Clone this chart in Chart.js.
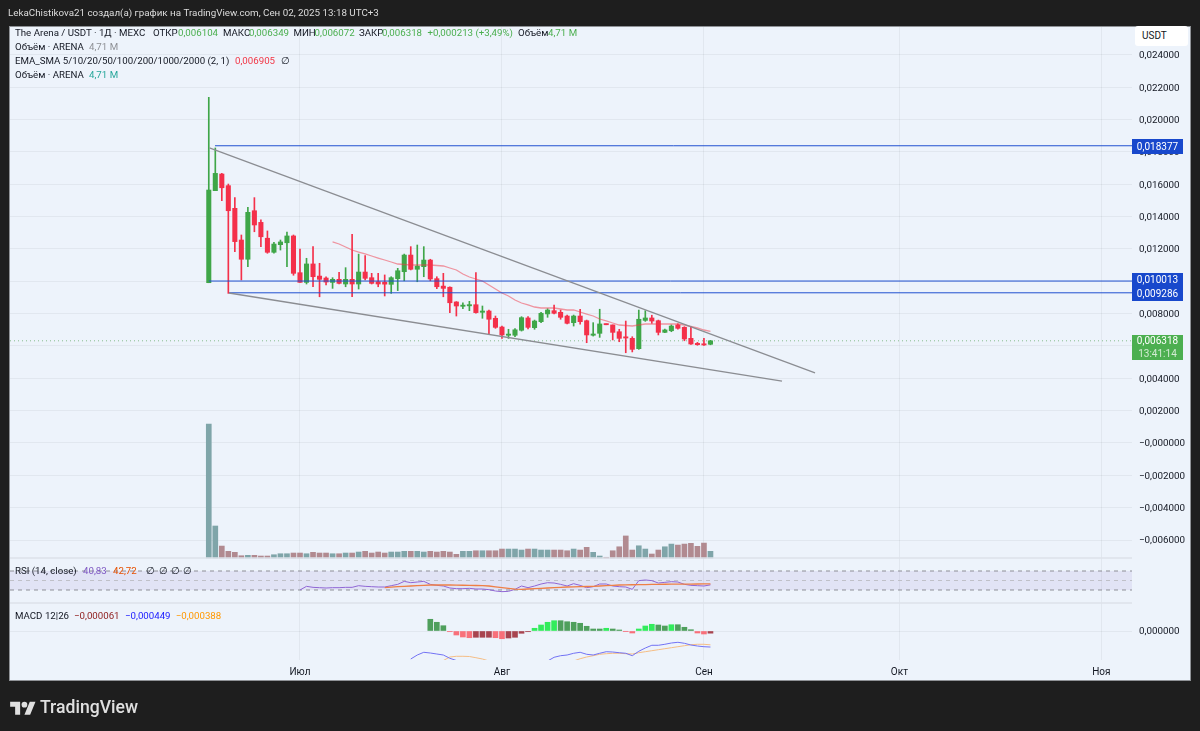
<!DOCTYPE html>
<html lang="ru">
<head>
<meta charset="utf-8">
<title>The Arena / USDT</title>
<script src="https://cdn.jsdelivr.net/npm/chart.js@4/dist/chart.umd.min.js"></script>
<style>
  html, body { margin: 0; padding: 0; background: #1e1e1e; width: 1200px; height: 731px; overflow: hidden; }
  body { position: relative; font-family: Roboto, sans-serif; }
  #frame { position: absolute; left: 9px; top: 26px; width: 1182px; height: 655px; box-sizing: border-box; border: 1px solid #8f9296; background: #edf3fb; }
  canvas { position: absolute; left: 0; top: 0; }
  .t { position: absolute; white-space: nowrap; font-size: 9.7px; line-height: 12px; color: #131722; }
  .badge { position: absolute; left: 1132px; width: 51px; color: #fff; font-size: 10px; line-height: 14px; text-align: center; }
  #usdt { position: absolute; left: 1135px; top: 26px; width: 53px; height: 20px; border-radius: 3px; background: #fff; color: #131722; font-size: 10px; line-height: 20px; text-indent: 7px; }
  #logo { position: absolute; left: 10px; top: 699px; }
  #brand { position: absolute; left: 40px; top: 695px; color: #e0e0e0; font-size: 17.6px; line-height: 24px; font-weight: 500; }
  #header { position: absolute; left: 8px; top: 6px; color: #dcdcdc; font-size: 9.8px; line-height: 14px; white-space: nowrap; }
</style>
</head>
<body>
<div id="frame"></div>
<canvas id="chart" width="1200" height="731"></canvas>
<div id="header">LekaChistikova21 создал(а) график на TradingView.com, Сен 02, 2025 13:18 UTC+3</div>
<div id="usdt">USDT</div>
<div class="badge" style="top:139px;height:15px;line-height:15px;background:#1848cc">0,018377</div>
<div class="badge" style="top:273px;height:28px;background:#1848cc">0,010013<br>0,009286</div>
<div class="badge" style="top:335px;height:25px;line-height:12.5px;background:#4caf50">0,006318<br><span style="opacity:.75">13:41:14</span></div>
<svg id="logo" width="26" height="20" viewBox="0 0 36 28" fill="#e0e0e0"><path d="M14 22H7V11H0V4h14v18zM28 22h-8l7.5-18h8L28 22z"/><circle cx="20" cy="8" r="4"/></svg>
<div id="brand">TradingView</div>

<script>
// Day index: 0 = 17 Jun 2025, one candle per day
const opens = [.00991,.0156,.01663,.01591,.01451,.01255,.01136,.01436,.01364,.01266,
  .01179,.01226,.01238,.0128,.01053,.00993,.01107,.01032,.0102,.00993,
  .01012,.00983,.01012,.00983,.01057,.01022,.00997,.00994,.00981,.01016,
  .01059,.01162,.01074,.0109,.01131,.01016,.0097,.00963,.00872,.00845,
  .00848,.00855,.00808,.00816,.00771,.00717,.00666,.00666,.00697,.00773,
  .00713,.0075,.00798,.00818,.00808,.00785,.00744,.00785,.00756,.00666,
  .00678,.00736,.0073,.00688,.00653,.00647,.00583,.00758,.00773,.00756,
  .00684,.00694,.0073,.00715,.00647,.00616,.00612,.006104];
const closes = [.01564,.01667,.01578,.01436,.01245,.01136,.01426,.01348,.01275,.01179,
  .0123,.01243,.0128,.01049,.00993,.01107,.01028,.01012,.00995,.01012,
  .00987,.01012,.00983,.01057,.01018,.00987,.00983,.00982,.01022,.01065,
  .01162,.01074,.01094,.01131,.01014,.00966,.00956,.00867,.00847,.0085,
  .00853,.00806,.00816,.00765,.00715,.00668,.00672,.007,.00775,.00715,
  .00754,.00802,.00822,.00802,.00777,.0074,.00785,.0075,.00668,.00674,
  .00736,.00731,.00684,.00647,.00649,.00579,.00765,.00773,.00754,.00684,
  .00699,.00723,.00709,.00643,.00612,.00608,.00606,.006318];
const highs = [.02137,.01824,.01667,.01601,.01517,.01286,.01457,.01517,.01379,.01311,
  .01241,.01255,.01304,.01286,.01199,.01142,.01214,.01111,.01028,.01022,
  .01055,.01084,.0129,.01168,.01158,.01049,.01049,.01039,.01028,.0108,
  .01168,.01214,.01224,.01214,.01136,.01028,.01049,.00966,.00874,.00867,
  .00876,.01053,.00847,.00822,.00785,.00723,.00703,.00707,.00781,.00781,
  .0076,.00808,.0083,.00853,.00822,.00791,.00791,.00827,.0076,.00744,
  .00827,.00736,.0073,.00703,.00754,.00657,.00822,.00818,.0079,.0076,
  .00705,.0073,.00736,.00719,.00719,.00622,.00647,.006349];
const lows = [.00991,.0156,.01498,.00925,.01183,.01008,.0109,.01306,.01214,.01173,
  .01173,.01193,.0109,.01037,.00993,.00983,.00966,.00904,.00977,.00956,
  .00983,.00966,.00904,.00952,.01008,.00983,.00966,.00909,.00925,.00942,
  .01003,.0107,.00997,.01028,.01003,.00954,.00904,.00806,.00785,.0083,
  .00818,.00802,.00771,.00674,.00709,.00647,.00647,.00657,.00692,.00705,
  .00703,.00744,.00777,.00798,.00765,.00736,.00723,.00734,.0062,.00661,
  .00653,.00731,.00637,.00626,.00558,.00563,.00579,.00752,.0074,.00668,
  .00682,.00688,.00703,.00632,.0061,.00604,.00604,.006072];
// Volume, millions
const volumes = [94.2,22.5,8.4,4.7,4.0,1.6,1.9,1.9,1.4,1.4,
  2.3,3.0,3.0,3.5,3.5,3.0,4.0,3.5,3.5,3.0,
  3.0,3.5,3.5,4.2,4.7,3.5,4.2,3.5,4.2,4.2,
  4.7,4.7,4.7,4.2,4.7,4.2,4.7,4.2,2.6,4.7,
  4.7,5.1,5.1,5.1,5.1,6.3,6.3,6.3,5.6,6.3,
  6.3,5.6,5.6,5.6,5.6,5.1,6.3,5.6,7.5,4.0,
  1.4,0.5,5.1,7.9,15.5,5.6,8.6,6.3,2.8,5.6,
  7.9,9.8,9.1,9.8,10.3,8.2,10.5,4.71];
// EMA from candle 19
const emaStart = 19;
const emaValues = [.012427,.012303,.012117,.011932,.011808,.011685,.011561,.011437,.011314,.01119,
  .011066,.011036,.011005,.011005,.011005,.011005,.010974,.010943,.010819,.010696,
  .010448,.010263,.010139,.010015,.009768,.009521,.009274,.009088,.008841,.008655,
  .008532,.008408,.008346,.008346,.008346,.008284,.008223,.008223,.008099,.007975,
  .007852,.007666,.007543,.007419,.007295,.007264,.007233,.007295,.007357,.007357,
  .007357,.007357,.007357,.007357,.007295,.007202,.00711,.006986,.006905];
// RSI from candle 14, its average from candle 27
const rsiStart = 14;
const rsiValues = [30,37.7,35.6,34.9,34.2,34.9,34.9,35.6,35.6,39.1,
  37.7,37,36.3,36.3,39.1,41.9,48.2,45.4,46.8,48.2,
  41.9,39.8,38.4,34.2,32.8,32.8,33.5,32.1,32.1,30.7,
  27.9,26.5,27.2,31.4,38.4,34.9,38.4,42.6,45.4,44.7,
  41.9,38.4,43.3,39.8,34.9,37,42.6,42.6,38.4,37,
  36.3,31.4,49.7,51.1,49.7,44.7,46.1,47.5,46.8,41.9,
  39.8,39.1,38.4,40.83];
const rsiMaStart = 27;
const rsiMaValues = [34.9,36,37,37.7,38.4,39.1,39.8,40.5,40.5,40.5,
  40.5,40.2,40,39.8,39.5,39,38.4,36.5,34.9,33.5,
  31.8,31.4,32.1,32.8,33.5,34.2,34.9,35.6,36.3,36.6,
  37,37.4,37.7,38.4,39,39.6,40.5,40.8,41,41.2,
  41.4,41.9,42,42.1,42.2,42.3,42.4,42.5,42.6,42.7,42.72];
const rsiLevels = [70, 50, 30];
// MACD
const macdStart = 31;
const macdValues = [-.000784,-.000672,-.000596,-.000616,-.000644,-.000672,-.000764,-.000826,-.000896,-.00098,
  -.001064,-.001148,-.001232,-.001316,-.0014,-.001428,-.0014,-.001316,-.001204,-.001064,
  -.000952,-.00084,-.000736,-.000692,-.000672,-.000624,-.000596,-.000652,-.000672,-.000624,
  -.00058,-.000588,-.000608,-.000624,-.000692,-.000568,-.000476,-.0004,-.0004,-.000372,
  -.000336,-.000316,-.000344,-.000392,-.00042,-.00044,-.000449];
const signalStart = 36;
const signalValues = [-.000826,-.000728,-.000708,-.000708,-.000714,-.000748,-.000784,-.00084,-.000896,-.000952,
  -.001008,-.001036,-.001064,-.001078,-.001064,-.001036,-.001008,-.00098,-.000938,-.000896,
  -.00084,-.000776,-.000728,-.000692,-.000652,-.000636,-.000624,-.000624,-.000636,-.000644,
  -.000608,-.00058,-.000552,-.000524,-.000496,-.000468,-.00044,-.000412,-.000384,-.000372,
  -.000372,-.000388];
const histStart = 34;
const histValues = [.000328,.000244,.000148,-.00002,-.000112,-.000168,-.000188,-.000176,-.000176,-.000176,
  -.000188,-.000216,-.000196,-.000176,-.000064,-.00002,.000076,.000168,.000244,.000288,
  .000288,.00026,.000244,.000216,.000132,.000056,.000056,.000076,.000056,.000028,
  -.000008,-.000056,.000056,.00014,.000188,.000168,.00014,.000176,.000176,.000104,
  .000036,-.000056,-.000084,-.000061];
// Drawings on the price pane: [day, price] ends
const upperTrend = [[0.1, .01824], [93.05, .00433]];
const lowerTrend = [[3.1, .009274], [87.98, .00383]];
const levels = [{ from: 0.95, price: .018377 }, { from: 0, price: .010013 }, { from: 3.1, price: .009286 }];
const lastPrice = .006318;
// Axes
const priceTicks = [.024,.022,.02,.018,.016,.014,.012,.01,.008,.006,.004,.002,0,-.002,-.004,-.006];
const macdTicks = [0];
const monthDays = [14, 45, 76, 106, 137];
const monthLabels = ['Июл', 'Авг', 'Сен', 'Окт', 'Ноя'];
const rsiMin = 2.63, rsiMax = 97.37;

const GREEN = '#3fa648', RED = '#f4304a', GRID = 'rgba(42,46,57,0.06)';
const BLUE = '#2050d0', GRAY = '#8b8d92', PANE_LINE = '#dce2ea';

const days = opens.map((_, i) => i);
const fromDay = (start, vals) => vals.map((y, i) => ({ x: start + i, y }));
const candleColor = (i) => closes[i] >= opens[i] ? GREEN : RED;
const fmt = (v) => Math.abs(v).toFixed(6).replace('.', ',');

function histColor(i) {
  const v = histValues[i], prev = i > 0 ? histValues[i - 1] : v;
  if (v >= 0) return v > prev ? '#33ec5c' : '#4f9f5c';
  return v < prev ? '#f8707a' : '#a8444f';
}

const plainLine = (label, yAxisID, data, color, extra) => Object.assign({
  type: 'line', label, yAxisID, data, borderColor: color, borderWidth: 1,
  pointRadius: 0, fill: false, tension: 0, order: 5
}, extra || {});

const xMin = -30.51, xMax = 141.7;
const datasets = [
  // volume
  { label: 'Volume', yAxisID: 'yVol', grouped: false, barThickness: 5, order: 20,
    data: days.map(i => ({ x: i, y: volumes[i] })),
    backgroundColor: days.map(i => closes[i] >= opens[i] ? '#7fa5a9' : '#b18a90') },
  // candles: wick first, body on top
  { label: 'Wick', yAxisID: 'y', grouped: false, barThickness: 1, order: 4,
    data: days.map(i => ({ x: i, y: [lows[i], highs[i]] })),
    backgroundColor: days.map(candleColor) },
  { label: 'Body', yAxisID: 'y', grouped: false, barThickness: 4.4, minBarLength: 1.2, order: 3,
    data: days.map(i => ({ x: i, y: [opens[i], closes[i]] })),
    backgroundColor: days.map(candleColor) },
  plainLine('EMA', 'y', fromDay(emaStart, emaValues), 'rgba(242,54,69,0.5)', { borderWidth: 1.3, order: 2 }),
  plainLine('Upper', 'y', upperTrend.map(p => ({ x: p[0], y: p[1] })), GRAY, { borderWidth: 1.3, order: 1 }),
  plainLine('Lower', 'y', lowerTrend.map(p => ({ x: p[0], y: p[1] })), GRAY, { borderWidth: 1.3, order: 1 }),
  plainLine('Last', 'y', [{ x: xMin, y: lastPrice }, { x: xMax, y: lastPrice }], '#86bd8c', { borderDash: [1, 3], order: 6 })
];
levels.forEach((l, i) => datasets.push(
  plainLine('Level ' + i, 'y', [{ x: l.from, y: l.price }, { x: xMax, y: l.price }], BLUE, { order: 1 })
));
// Pane separators
[rsiMax, rsiMin].forEach((v, i) => datasets.push(
  plainLine('Pane ' + i, 'yRsi', [{ x: xMin, y: v }, { x: xMax, y: v }], PANE_LINE, { borderWidth: 1.5, clip: false, order: 12 })
));
// RSI band and levels
rsiLevels.forEach((lv) => datasets.push(
  plainLine('RSI ' + lv, 'yRsi', [{ x: xMin, y: lv }, { x: xMax, y: lv }],
    lv === 50 ? '#bfc0c8' : '#8d8e96', { borderDash: [4, 4], order: 9 })
));
datasets.push(plainLine('RSI band', 'yRsi',
  [{ x: xMin, y: 70 }, { x: xMax, y: 70 }], 'rgba(0,0,0,0)',
  { fill: { target: { value: 30 } }, backgroundColor: 'rgba(126,87,194,0.1)', order: 10 }));
datasets.push(plainLine('RSI', 'yRsi', fromDay(rsiStart, rsiValues), '#8f66d4', { order: 8 }));
datasets.push(plainLine('RSI MA', 'yRsi', fromDay(rsiMaStart, rsiMaValues), '#ee7f45', { borderWidth: 1.3, order: 7 }));
// MACD
datasets.push({ label: 'Histogram', yAxisID: 'yMacd', grouped: false, barThickness: 5, order: 8,
  data: fromDay(histStart, histValues), backgroundColor: histValues.map((_, i) => histColor(i)) });
datasets.push(plainLine('MACD', 'yMacd', fromDay(macdStart, macdValues), '#7272f4', { order: 6 }));
datasets.push(plainLine('Signal', 'yMacd', fromDay(signalStart, signalValues), '#f5bd85', { order: 7 }));

const yFont = { family: 'Roboto', size: 9.8 };
const rightAxis = (extra) => Object.assign({
  position: 'right', stack: 'panes',
  border: { display: false },
  grid: { color: GRID, drawTicks: false },
  afterFit: (s) => { s.width = 59; }
}, extra);

new Chart(document.getElementById('chart'), {
  type: 'bar',
  data: { datasets },
  options: {
    responsive: false,
    animation: false,
    layout: { padding: { left: 10, top: 27, right: 9, bottom: 50 } },
    plugins: { legend: { display: false }, tooltip: { enabled: false } },
    scales: {
      x: {
        type: 'linear', min: xMin, max: xMax, offset: false,
        border: { display: false },
        grid: { color: GRID, drawTicks: false, offset: false },
        afterBuildTicks: (s) => { s.ticks = monthDays.map(value => ({ value })); },
        afterFit: (s) => { s.height = 21; },
        ticks: {
          autoSkip: false, maxRotation: 0, padding: 6, color: '#131722',
          font: { family: 'Roboto', size: 10 },
          callback: (v) => monthLabels[monthDays.indexOf(v)]
        }
      },
      y: rightAxis({
        stackWeight: 531, weight: 1, min: -.00711, max: .025719,
        afterBuildTicks: (s) => { s.ticks = priceTicks.map(value => ({ value })); },
        ticks: { padding: 7, labelOffset: 1, color: '#131722', font: yFont, callback: (v) => (v <= 0 ? '−' : '') + fmt(v) }
      }),
      yRsi: rightAxis({
        stackWeight: 45, weight: 2, min: rsiMin, max: rsiMax,
        grid: { display: false },
        ticks: { display: false }
      }),
      yMacd: rightAxis({
        stackWeight: 57, weight: 3, min: -.000812, max: .000784,
        afterBuildTicks: (s) => { s.ticks = macdTicks.map(value => ({ value })); },
        ticks: { padding: 7, labelOffset: 1, color: '#131722', font: yFont, callback: (v) => fmt(v) }
      }),
      yVol: { display: false, position: 'right', min: -71.7, max: 373.3 }
    }
  }
});

// Legend rows as real text
const legendItems = [
  [15, 27, 'The Arena / USDT · 1Д · MEXC'], [153, 27, 'ОТКР'], [178, 27, '0,006104', '#4caf50'],
  [223, 27, 'МАКС'], [249, 27, '0,006349', '#4caf50'], [293.5, 27, 'МИН'], [314.6, 27, '0,006072', '#4caf50'],
  [359, 27, 'ЗАКР'], [382, 27, '0,006318', '#4caf50'], [427.5, 27, '+0,000213 (+3,49%)', '#4caf50'],
  [518, 27, 'Объём'], [548, 27, '4,71 M', '#4caf50'],
  [15, 41, 'Объём · ARENA'], [89, 41, '4,71 M', '#8e9095'],
  [15, 55, 'EMA_SMA 5/10/20/50/100/200/1000/2000 (2, 1)'], [235, 55, '0,006905', '#f23645'], [281, 55, '∅'],
  [15, 69, 'Объём · ARENA'], [89, 69, '4,71 M', '#26a69a'],
  [15, 565, 'RSI (14, close)'], [83, 565, '40,83', '#7e57c2'], [113, 565, '42,72', '#e65100'],
  [145.5, 565, '∅'], [158.5, 565, '∅'], [171, 565, '∅'], [183, 565, '∅'],
  [15, 610, 'MACD 12|26'], [74, 610, '−0,000061', '#8e1b1b'], [125, 610, '−0,000449', '#2020ff'], [175.7, 610, '−0,000388', '#ff9800']
];
legendItems.forEach(([x, y, text, color]) => {
  const el = document.createElement('div');
  el.className = 't';
  el.style.left = x + 'px';
  el.style.top = y + 'px';
  if (color) el.style.color = color;
  el.textContent = text;
  document.body.appendChild(el);
});
</script>
</body>
</html>
